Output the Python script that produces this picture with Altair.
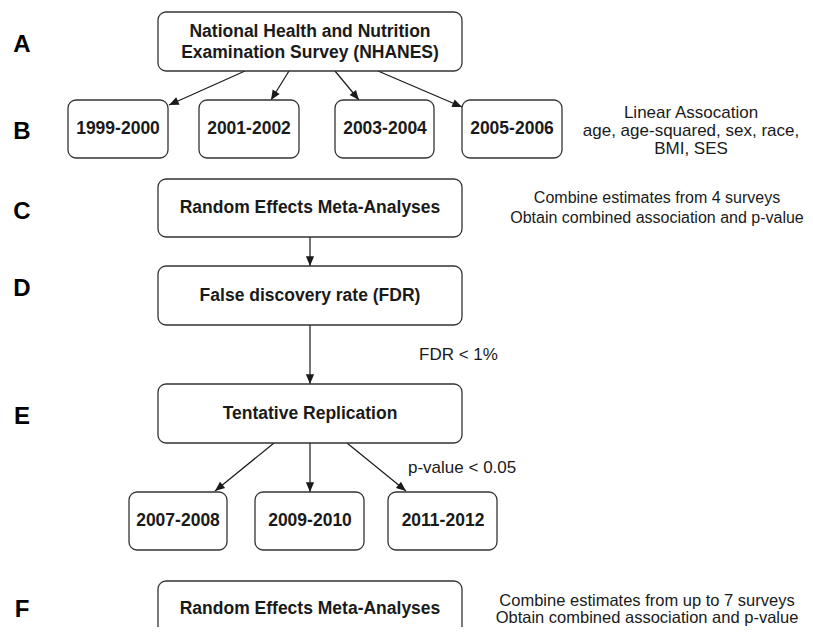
import math
import altair as alt
import pandas as pd

FONT = "Liberation Sans"
INK = "#1a1a1a"

# ---- boxes (image pixel coordinates) ----
box_x1 = [158, 68, 199, 335, 462, 158, 158, 158, 129, 255, 388, 158]
box_x2 = [462, 168, 299, 434, 562, 462, 462, 462, 227, 364, 497, 462]
box_y1 = [12, 100, 100, 100, 100, 179, 266, 384, 492, 492, 492, 581]
box_y2 = [71, 158, 158, 158, 158, 237, 325, 443, 550, 550, 550, 641]

# ---- bold text inside boxes ----
box_text = ["National Health and Nutrition", "Examination Survey (NHANES)",
            "1999-2000", "2001-2002", "2003-2004", "2005-2006",
            "Random Effects Meta-Analyses", "False discovery rate (FDR)",
            "Tentative Replication", "2007-2008", "2009-2010", "2011-2012",
            "Random Effects Meta-Analyses"]
box_text_x = [310, 310, 118, 249, 385, 512, 310, 310, 310, 178, 310, 443, 310]
box_text_y = [32, 53, 129, 129, 129, 129, 208, 296, 414, 521, 521, 521, 609]

# ---- plain annotation text ----
note_text = ["Linear Assocation", "age, age-squared, sex, race,", "BMI, SES",
             "Combine estimates from 4 surveys", "Obtain combined association and p-value",
             "Combine estimates from up to 7 surveys", "Obtain combined association and p-value"]
note_x = [691, 691, 691, 657, 657, 647, 647]
note_y = [113, 131, 149, 198, 218, 601, 618]
note_size = [17, 17, 17, 16, 16, 16.5, 16.5]

side_text = ["FDR < 1%", "p-value < 0.05"]
side_x = [419, 408]
side_y = [355, 468]

# ---- panel letters ----
panel = ["A", "B", "C", "D", "E", "F"]
panel_y = [45, 132, 212, 289, 417, 610]

# ---- arrows ----
arr_x1 = [245, 289, 335, 378, 310, 310, 274, 310, 347]
arr_y1 = [71, 71, 71, 71, 237, 325, 443, 443, 443]
arr_x2 = [169, 271, 359, 462, 310, 310, 215, 310, 406]
arr_y2 = [105, 100, 100, 107, 266, 384, 491, 492, 491]

boxes = pd.DataFrame({"x1": box_x1, "x2": box_x2, "y1": box_y1, "y2": box_y2})
btext = pd.DataFrame({"t": box_text, "x": box_text_x, "y": box_text_y})
notes = pd.DataFrame({"t": note_text, "x": note_x, "y": note_y, "s": note_size})
sides = pd.DataFrame({"t": side_text, "x": side_x, "y": side_y})
panels = pd.DataFrame({"t": panel, "x": [22] * len(panel), "y": panel_y})
arrows = pd.DataFrame({"x1": arr_x1, "y1": arr_y1, "x2": arr_x2, "y2": arr_y2})
arrows["ang"] = [
    (math.degrees(math.atan2(-(b - a), (d - c))) + 360) % 360
    for a, b, c, d in zip(arr_x1, arr_x2, arr_y1, arr_y2)
]

# page has an 8px margin: plot area covers page pixels 8..805 x 8..627
W, H = 797, 619
xs = alt.Scale(domain=[8, 805], zero=False, nice=False)
ys = alt.Scale(domain=[8, 627], zero=False, nice=False, reverse=True)
X = lambda f: alt.X(f, type="quantitative", scale=xs, axis=None)
Y = lambda f: alt.Y(f, type="quantitative", scale=ys, axis=None)

rects = alt.Chart(boxes).mark_rect(
    cornerRadius=8, fill="white", stroke="#333333", strokeWidth=1.3
).encode(x=X("x1"), x2="x2", y=Y("y1"), y2="y2")

lines = alt.Chart(arrows).mark_rule(color=INK, strokeWidth=1.2).encode(
    x=X("x1"), y=Y("y1"), x2="x2", y2="y2")

heads = alt.Chart(arrows).mark_point(
    shape="M0,0 L-0.42,-1 L0.42,-1 Z", filled=True, fill=INK,
    size=380, opacity=1, strokeWidth=0
).encode(x=X("x2"), y=Y("y2"), angle=alt.Angle("ang:Q", scale=None))

bt = alt.Chart(btext).mark_text(
    font=FONT, fontSize=17.5, fontWeight="bold", color=INK, baseline="middle", align="center"
).encode(x=X("x"), y=Y("y"), text="t:N")

nt = alt.Chart(notes).mark_text(
    font=FONT, color=INK, baseline="middle", align="center"
).encode(x=X("x"), y=Y("y"), text="t:N", size=alt.Size("s:Q", scale=None))

st = alt.Chart(sides).mark_text(
    font=FONT, fontSize=17, color=INK, baseline="middle", align="left"
).encode(x=X("x"), y=Y("y"), text="t:N")

pt = alt.Chart(panels).mark_text(
    font=FONT, fontSize=24, fontWeight="bold", color="#000000", baseline="middle", align="center"
).encode(x=X("x"), y=Y("y"), text="t:N")

chart = alt.layer(lines, heads, rects, bt, nt, st, pt).properties(
    width=W, height=H, autosize=alt.AutoSizeParams(type="none"), padding=0
).configure(background="white", view=alt.ViewConfig(stroke=None))

chart.save("out.html", embed_options={"renderer": "svg", "actions": False})
